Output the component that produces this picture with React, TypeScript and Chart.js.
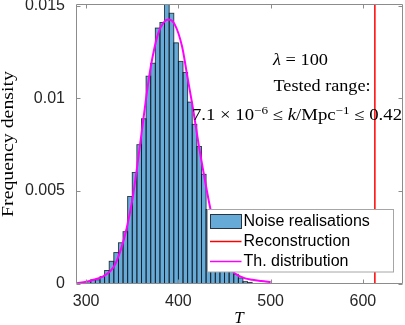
import React, { useEffect, useRef } from "react";
import { Chart, registerables } from "chart.js";

Chart.register(...registerables);

// ---- data ----
const BIN_CENTERS = [
  302.5, 307.5, 312.5, 317.5, 322.5, 327.5, 332.5, 337.5, 342.5, 347.5,
  352.5, 357.5, 362.5, 367.5, 372.5, 377.5, 382.5, 387.5, 392.5, 397.5,
  402.5, 407.5, 412.5, 417.5, 422.5, 427.5, 432.5, 437.5, 442.5, 447.5,
  452.5, 457.5, 462.5, 467.5, 472.5, 477.5,
];
const FREQ_DENSITY = [
  0.0001, 0.0002, 0.0002, 0.00037, 0.0007, 0.0012, 0.00167, 0.0022, 0.0028, 0.0047,
  0.006, 0.0075, 0.0089, 0.0112, 0.0119, 0.0138, 0.0141, 0.0151, 0.0146, 0.013,
  0.012, 0.0114, 0.0098, 0.0086, 0.0074, 0.0059, 0.004, 0.0031, 0.0022, 0.0015,
  0.001, 0.0007, 0.0005, 0.0003, 0.0001, 0.00005,
];
const TH_T = [
  290, 300, 308, 319, 330, 338, 344, 350, 355, 360, 365, 370, 378, 384, 389,
  396, 404, 410, 416, 422, 428, 434, 440, 450, 460, 470, 480, 490, 500,
];
const TH_DENSITY = [
  0.00002, 0.00009, 0.0002, 0.0004, 0.0009, 0.0019, 0.003, 0.0045, 0.0062, 0.0081,
  0.01, 0.0117, 0.0135, 0.0141, 0.01426, 0.014, 0.0128, 0.0111, 0.0094, 0.0075,
  0.0058, 0.0042, 0.0029, 0.0014, 0.0006, 0.00032, 0.0002, 0.00013, 0.00008,
];
const RECONSTRUCTION_T = 613;

const X_MIN = 289;
const X_MAX = 643.5;
const Y_MIN = 0;
const Y_MAX = 0.0151;
const X_TICKS = [300, 400, 500, 600];
const Y_TICKS = [0, 0.005, 0.01, 0.015];
const Y_TICK_LABELS = ["0", "0.005", "0.01", "0.015"];

const LEGEND_LABELS = ["Noise realisations", "Reconstruction", "Th. distribution"];
const X_TITLE = "T";
const Y_TITLE = "Frequency density";
const LAMBDA_TEXT = ["λ", " = 100"];
const RANGE_TITLE = "Tested range:";
const RANGE_TEXT = ["7.1 × 10", "−6", " ≤ ", "k", "/Mpc", "−1", " ≤ 0.42"];

// ---- styles ----
const BAR_FILL = "rgb(102,170,215)";
const BAR_EDGE = "rgba(15,25,35,0.85)";
const AXIS_COLOR = "#8c8c8c";
const TICK_TEXT = "#262626";
const SANS = '"Liberation Sans", Arial, sans-serif';
const SERIF = '"Liberation Serif", "Times New Roman", serif';

type Seg = { t: string; it?: boolean; sup?: boolean };

function drawRich(
  ctx: CanvasRenderingContext2D,
  segs: Seg[],
  x: number,
  baseline: number,
  size: number,
  targetW: number
) {
  const fontFor = (s: Seg) =>
    `${s.it ? "italic " : ""}${s.sup ? size * 0.7 : size}px ${SERIF}`;
  let total = 0;
  const widths = segs.map((s) => {
    ctx.font = fontFor(s);
    const w = ctx.measureText(s.t).width;
    total += w;
    return w;
  });
  const k = targetW / total;
  ctx.save();
  ctx.translate(x, baseline);
  ctx.scale(k, 1);
  ctx.textAlign = "left";
  ctx.textBaseline = "alphabetic";
  let cx = 0;
  segs.forEach((s, i) => {
    ctx.font = fontFor(s);
    ctx.fillText(s.t, cx, s.sup ? -size * 0.4 : 0);
    cx += widths[i];
  });
  ctx.restore();
}

const overlayPlugin = {
  id: "overlay",
  afterDatasetDraw(chart: any, args: any) {
    if (args.index !== 0) return;
    const { ctx, chartArea: a } = chart;
    const meta = chart.getDatasetMeta(0);
    ctx.save();
    ctx.beginPath();
    ctx.rect(a.left, a.top, a.right - a.left, a.bottom - a.top);
    ctx.clip();
    ctx.strokeStyle = BAR_EDGE;
    ctx.lineWidth = 0.9;
    for (const el of meta.data) {
      const p = el.getProps(["x", "y", "base", "width"], true);
      const x0 = p.x - p.width / 2;
      const top = Math.min(p.y, p.base);
      const h = Math.abs(p.base - p.y);
      ctx.strokeRect(x0, top, p.width, h);
    }
    ctx.restore();
  },
  afterDatasetsDraw(chart: any) {
    const { ctx, chartArea: a, scales } = chart;
    const xs = scales.x;
    const ys = scales.y;
    ctx.save();

    // annotation text
    ctx.fillStyle = "#000";
    drawRich(ctx, [{ t: LAMBDA_TEXT[0], it: true }, { t: LAMBDA_TEXT[1] }], 273, 65, 16, 55);
    drawRich(ctx, [{ t: RANGE_TITLE }], 273.5, 91, 16, 97);
    drawRich(
      ctx,
      [
        { t: RANGE_TEXT[0] },
        { t: RANGE_TEXT[1], sup: true },
        { t: RANGE_TEXT[2] },
        { t: RANGE_TEXT[3], it: true },
        { t: RANGE_TEXT[4] },
        { t: RANGE_TEXT[5], sup: true },
        { t: RANGE_TEXT[6] },
      ],
      192,
      120,
      16,
      210
    );

    // box
    ctx.strokeStyle = AXIS_COLOR;
    ctx.lineWidth = 1;
    const L = Math.round(a.left) + 0.5;
    const R = Math.round(a.right) - 0.5;
    const T = Math.round(a.top) + 0.5;
    const B = Math.round(a.bottom) - 0.5;
    ctx.beginPath();
    ctx.rect(L, T, R - L, B - T);
    ctx.stroke();
    const tl = 4;
    ctx.beginPath();
    for (const v of X_TICKS) {
      const px = Math.round(xs.getPixelForValue(v)) + 0.5;
      ctx.moveTo(px, B);
      ctx.lineTo(px, B - tl);
      ctx.moveTo(px, T);
      ctx.lineTo(px, T + tl);
    }
    for (const v of Y_TICKS) {
      const py = Math.round(ys.getPixelForValue(v)) + 0.5;
      ctx.moveTo(L, py);
      ctx.lineTo(L + tl, py);
      ctx.moveTo(R, py);
      ctx.lineTo(R - tl, py);
    }
    ctx.stroke();

    // legend
    const lx = 207.5, ly = 209.5, lw = 186, lh = 62.5;
    ctx.fillStyle = "#fff";
    ctx.fillRect(lx, ly, lw, lh);
    ctx.strokeStyle = "#a6a6a6";
    ctx.strokeRect(lx, ly, lw, lh);
    const rows = [221.5, 241.5, 261.5];
    ctx.fillStyle = BAR_FILL;
    ctx.fillRect(210.5, 214.5, 31, 14);
    ctx.strokeStyle = BAR_EDGE;
    ctx.strokeRect(210.5, 214.5, 31, 14);
    ctx.lineWidth = 1.5;
    ctx.strokeStyle = "#ff0000";
    ctx.beginPath();
    ctx.moveTo(210, rows[1]);
    ctx.lineTo(241.5, rows[1]);
    ctx.stroke();
    ctx.strokeStyle = "#ff00ff";
    ctx.beginPath();
    ctx.moveTo(210, rows[2]);
    ctx.lineTo(241.5, rows[2]);
    ctx.stroke();
    ctx.fillStyle = "#000";
    ctx.font = `16px ${SANS}`;
    ctx.textAlign = "left";
    ctx.textBaseline = "middle";
    LEGEND_LABELS.forEach((lab, i) => ctx.fillText(lab, 243.5, rows[i]));

    // axis titles
    ctx.fillStyle = "#000";
    ctx.save();
    ctx.translate(9, 144);
    ctx.rotate(-Math.PI / 2);
    drawRich(ctx, [{ t: Y_TITLE }], -73, 3.8, 16, 146);
    ctx.restore();
    ctx.font = `italic 17px ${SERIF}`;
    ctx.textAlign = "center";
    ctx.textBaseline = "alphabetic";
    ctx.fillText(X_TITLE, 239, 323);

    ctx.restore();
  },
};

export default function App() {
  const ref = useRef<HTMLCanvasElement | null>(null);
  useEffect(() => {
    if (!ref.current) return;
    const chart = new Chart(ref.current, {
      type: "bar",
      data: {
        datasets: [
          {
            type: "bar",
            label: LEGEND_LABELS[0],
            data: BIN_CENTERS.map((c, i) => ({ x: c, y: FREQ_DENSITY[i] })),
            backgroundColor: BAR_FILL,
            borderWidth: 0,
            barPercentage: 1,
            categoryPercentage: 1,
            inflateAmount: 0,
            order: 3,
          } as any,
          {
            type: "line",
            label: LEGEND_LABELS[1],
            data: [
              { x: RECONSTRUCTION_T, y: Y_MIN },
              { x: RECONSTRUCTION_T, y: Y_MAX },
            ],
            borderColor: "#ff0000",
            borderWidth: 1.5,
            pointRadius: 0,
            order: 2,
          } as any,
          {
            type: "line",
            label: LEGEND_LABELS[2],
            data: TH_T.map((t, i) => ({ x: t, y: TH_DENSITY[i] })),
            borderColor: "#ff00ff",
            borderWidth: 2,
            pointRadius: 0,
            cubicInterpolationMode: "monotone",
            order: 1,
          } as any,
        ],
      },
      options: {
        animation: false,
        responsive: false,
        maintainAspectRatio: false,
        layout: { padding: { top: 4, right: 2, left: 0, bottom: 0 } },
        plugins: { legend: { display: false }, tooltip: { enabled: false } },
        scales: {
          x: {
            type: "linear",
            min: X_MIN,
            max: X_MAX,
            offset: false,
            grid: { display: false, drawTicks: false },
            border: { display: false },
            ticks: {
              font: { family: SANS, size: 16 },
              color: TICK_TEXT,
              padding: 8,
              maxRotation: 0,
              callback: (v: any) => String(v),
            },
            afterBuildTicks: (s: any) => {
              s.ticks = X_TICKS.map((v) => ({ value: v }));
            },
            afterFit: (s: any) => {
              s.height = 41.5;
              s.paddingLeft = 0;
              s.paddingRight = 0;
            },
          },
          y: {
            type: "linear",
            min: Y_MIN,
            max: Y_MAX,
            grid: { display: false, drawTicks: false },
            border: { display: false },
            ticks: {
              font: { family: SANS, size: 16 },
              color: TICK_TEXT,
              padding: 11,
              callback: (v: any) => {
                const i = Y_TICKS.findIndex((t) => Math.abs(t - v) < 1e-9);
                return i >= 0 ? Y_TICK_LABELS[i] : "";
              },
            },
            afterBuildTicks: (s: any) => {
              s.ticks = Y_TICKS.map((v) => ({ value: v }));
            },
            afterFit: (s: any) => {
              s.width = 76;
              s.paddingTop = 0;
              s.paddingBottom = 0;
            },
          },
        },
      },
      plugins: [overlayPlugin],
    });
    return () => chart.destroy();
  }, []);
  return (
    <div style={{ position: "fixed", left: 0, top: 0, width: 405, height: 325, background: "#fff" }}>
      <canvas ref={ref} width={405} height={325} style={{ display: "block", width: 405, height: 325 }} />
    </div>
  );
}
